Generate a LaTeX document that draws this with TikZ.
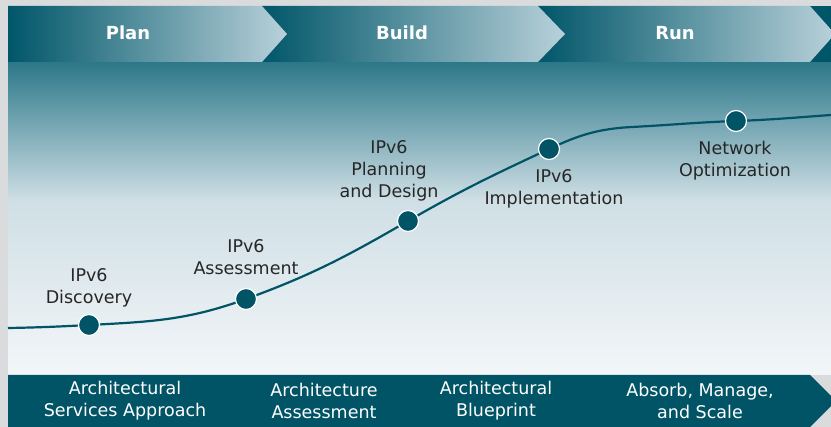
\documentclass[tikz,border=0pt]{standalone}
\usepackage{fontspec}
\setmainfont{DejaVu Sans}
\definecolor{pagegray}{HTML}{DADBDD}
\definecolor{tealdark}{HTML}{005669}
\definecolor{teallight}{HTML}{B8D1DA}
\definecolor{bgtop}{HTML}{2B7789}
\definecolor{bgmid}{HTML}{CFDFE5}
\definecolor{bgbot}{HTML}{F3F6F8}
\definecolor{banddark}{HTML}{005466}
\definecolor{labelgray}{HTML}{262626}
\begin{document}
\begin{tikzpicture}[x=1pt,y=1pt,
  chev/.style={left color=tealdark,right color=teallight,draw=none},
  phase/.style={text=white,font=\fontsize{18}{22}\selectfont\bfseries},
  steplabel/.style={text=labelgray,align=center,font=\fontsize{17.5}{22}\selectfont},
  bandlabel/.style={text=white,align=center,font=\fontsize{17.5}{22}\selectfont},
  dot/.style={circle,fill=banddark,draw=white,line width=1.2pt,minimum size=21pt,inner sep=0pt},
  curve/.style={draw=banddark,line width=2.2pt}]
\useasboundingbox (0,0) rectangle (831,-427);
\fill[pagegray] (0,0) rectangle (831,-427);
% background gradient
\shade[top color=bgtop,bottom color=bgmid] (8,-61) rectangle (831,-200.5);
\shade[top color=bgmid,bottom color=bgbot] (8,-200) rectangle (831,-375);
% top band chevrons
\fill[tealdark] (805,-6) rectangle (831,-62);
\shade[chev] (538,-6) -- (810,-6) -- (835,-34) -- (810,-62) -- (538,-62) -- cycle;
\shade[chev] (262,-6) -- (538,-6) -- (565,-34) -- (538,-62) -- (262,-62) -- cycle;
\shade[chev] (8,-6) -- (262,-6) -- (287,-34) -- (262,-62) -- (8,-62) -- cycle;
\node[phase] (plan) at (128,-33) {Plan};
\node[phase] (build) at (402,-33) {Build};
\node[phase] (run) at (675,-33) {Run};
% bottom band
\fill[banddark] (8,-375) -- (810,-375) -- (836,-401) -- (810,-427) -- (8,-427) -- cycle;
\node[bandlabel] (b1) at (125,-401) {Architectural\\Services Approach};
\node[bandlabel] (b2) at (324,-401) {Architecture\\Assessment};
\node[bandlabel] (b3) at (496,-401) {Architectural\\Blueprint};
\node[bandlabel] (b4) at (700,-401) {Absorb, Manage,\\and Scale};
% curve
\coordinate (s) at (8,-328);
\coordinate (p1) at (89,-325);
\coordinate (p2) at (246,-299);
\coordinate (p3) at (408,-221);
\coordinate (p4) at (549,-149);
\coordinate (k) at (632,-127);
\coordinate (p5) at (736,-121);
\coordinate (e) at (831,-115);
\draw[curve] (s) to[out=1,in=183] (p1) to[out=3,in=200] (p2) to[out=20,in=210] (p3)
  to[out=30,in=205] (p4) to[out=25,in=183] (k) to[out=3,in=182] (p5) to[out=2,in=184] (e);
\node[dot] (d1) at (p1) {};
\node[dot] (d2) at (p2) {};
\node[dot] (d3) at (p3) {};
\node[dot] (d4) at (p4) {};
\node[dot] (d5) at (p5) {};
\node[steplabel] (l1) at (89,-288) {IPv6\\Discovery};
\node[steplabel] (l2) at (246,-257) {IPv6\\Assessment};
\node[steplabel] (l3) at (389,-171) {IPv6\\Planning\\and Design};
\node[steplabel] (l4) at (554,-189) {IPv6\\Implementation};
\node[steplabel] (l5) at (735,-161) {Network\\Optimization};
\end{tikzpicture}
\end{document}
